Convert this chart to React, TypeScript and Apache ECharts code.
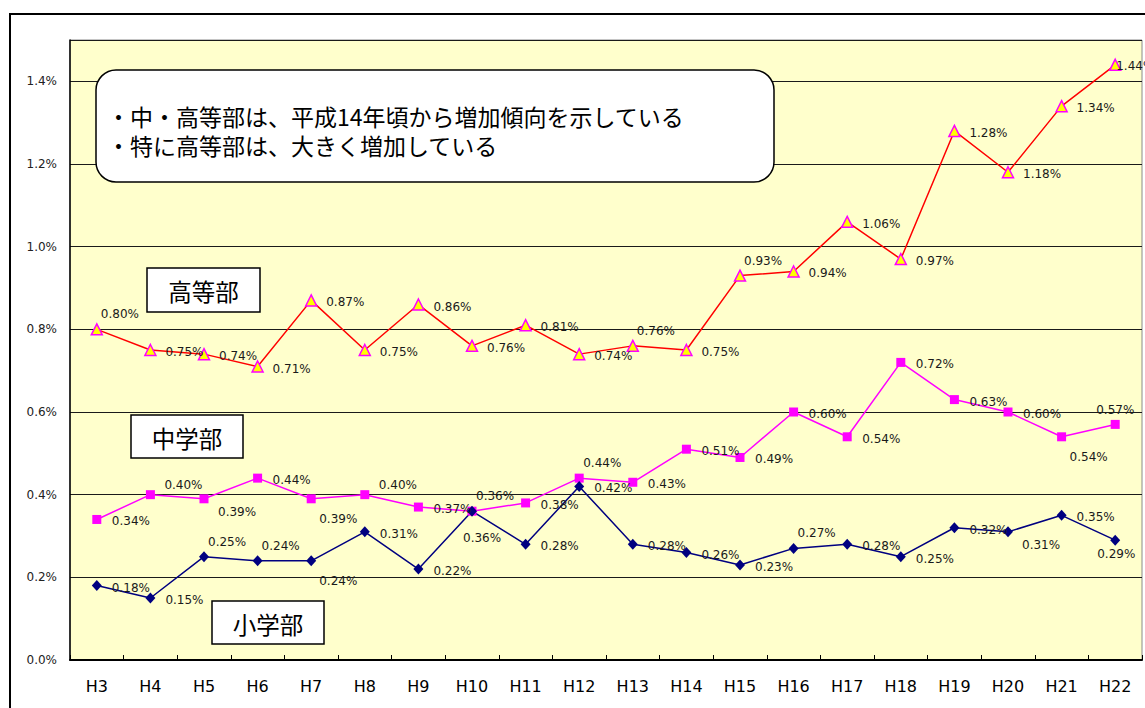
import React, { useEffect, useRef } from "react";
import * as echarts from "echarts";

const categories = ["H3", "H4", "H5", "H6", "H7", "H8", "H9", "H10", "H11", "H12", "H13", "H14", "H15", "H16", "H17", "H18", "H19", "H20", "H21", "H22"];
const koutoubu = [0.80, 0.75, 0.74, 0.71, 0.87, 0.75, 0.86, 0.76, 0.81, 0.74, 0.76, 0.75, 0.93, 0.94, 1.06, 0.97, 1.28, 1.18, 1.34, 1.44];
const chugakubu = [0.34, 0.40, 0.39, 0.44, 0.39, 0.40, 0.37, 0.36, 0.38, 0.44, 0.43, 0.51, 0.49, 0.60, 0.54, 0.72, 0.63, 0.60, 0.54, 0.57];
const shougakubu = [0.18, 0.15, 0.25, 0.24, 0.24, 0.31, 0.22, 0.36, 0.28, 0.42, 0.28, 0.26, 0.23, 0.27, 0.28, 0.25, 0.32, 0.31, 0.35, 0.29];
const yTicks = [0, 0.2, 0.4, 0.6, 0.8, 1.0, 1.2, 1.4];

// label placement codes (style only)
const koutouPlace = ["U", "R", "R", "R", "R", "R", "R", "R", "R", "R", "U", "R", "U", "R", "R", "R", "R", "R", "R", "C"];
const chuPlace = ["R", "UR", "DR", "R", "D", "UR", "R", "U", "R", "U", "R", "R", "R", "R", "R", "R", "R", "R", "D", "UL"];
const shouPlace = ["R", "R", "U", "U", "D", "R", "R", "DD", "R", "R", "R", "R", "R", "U", "R", "R", "R", "DR", "R", "DL"];

const offsets: Record<string, number[]> = {
  R: [15, 2],
  U: [4, -15],
  D: [8, 20],
  UR: [14, -10],
  DR: [14, 13],
  UL: [-19, -14],
  DL: [-18, 14],
  DD: [-9, 27],
  C: [1, 1],
};

const noteLines = ["・中・高等部は、平成14年頃から増加傾向を示している", "・特に高等部は、大きく増加している"];

const smallFont = "'DejaVu Sans', sans-serif";
const cjkFont = "'Noto Sans CJK JP', sans-serif";

function buildData(values: number[], places: string[]) {
  return values.map((v, i) => ({
    value: v,
    label: { offset: offsets[places[i]] || offsets.R },
  }));
}

const labelBase = {
  show: true,
  position: "inside",
  align: "left",
  verticalAlign: "middle",
  fontSize: 12,
  fontFamily: smallFont,
  color: "#1a1a1a",
  formatter: (p: any) => Number(p.value).toFixed(2) + "%",
};

function boxLabel(text: string, x: number, y: number, w: number, h: number) {
  return {
    type: "group",
    z: 10,
    children: [
      {
        type: "rect",
        shape: { x, y, width: w, height: h },
        style: { fill: "#ffffff", stroke: "#000000", lineWidth: 1.5 },
        z: 10,
      },
      {
        type: "text",
        x: x + w / 2,
        y: y + h / 2 + 1,
        style: {
          text,
          fontSize: 23.5,
          fontFamily: cjkFont,
          fill: "#000000",
          align: "center",
          verticalAlign: "middle",
        },
        z: 11,
      },
    ],
  };
}

export default function App() {
  const ref = useRef<HTMLDivElement>(null);
  useEffect(() => {
    if (!ref.current) return;
    const chart = echarts.init(ref.current, undefined, { renderer: "svg" });
    chart.setOption({
      animation: false,
      backgroundColor: "#ffffff",
      grid: {
        left: 70,
        right: 3,
        top: 40,
        bottom: 48,
        show: true,
        backgroundColor: "#FFFFCC",
        borderColor: "#8a8a8a",
        borderWidth: 1,
      },
      xAxis: {
        type: "category",
        data: categories,
        boundaryGap: true,
        axisLine: { show: true, lineStyle: { color: "#000000", width: 2 } },
        axisTick: { show: true, inside: true, length: 5, lineStyle: { color: "#000000", width: 1 } },
        axisLabel: { fontSize: 16, fontFamily: smallFont, color: "#000000", margin: 18 },
        splitLine: { show: false },
      },
      yAxis: {
        type: "value",
        min: 0,
        max: 1.5,
        interval: 0.2,
        axisLine: { show: true, lineStyle: { color: "#000000", width: 1.5 } },
        axisTick: { show: false },
        axisLabel: {
          fontSize: 12,
          fontFamily: smallFont,
          color: "#222222",
          margin: 13,
          showMaxLabel: false,
          formatter: (v: number) => {
            const t = yTicks.find((k) => Math.abs(k - v) < 1e-6);
            return t === undefined ? "" : t.toFixed(1) + "%";
          },
        },
        splitLine: { show: true, lineStyle: { color: "#1a1a1a", width: 1 } },
      },
      series: [
        {
          name: "高等部",
          type: "line",
          data: buildData(koutoubu, koutouPlace),
          symbol: "triangle",
          symbolSize: 11,
          lineStyle: { color: "#FF0000", width: 1.5 },
          itemStyle: { color: "#FFFF00", borderColor: "#FF00FF", borderWidth: 1.5 },
          label: labelBase,
          z: 3,
        },
        {
          name: "中学部",
          type: "line",
          data: buildData(chugakubu, chuPlace),
          symbol: "rect",
          symbolSize: 9,
          lineStyle: { color: "#FF00FF", width: 1.5 },
          itemStyle: { color: "#FF00FF", borderColor: "#FF00FF", borderWidth: 0 },
          label: labelBase,
          z: 3,
        },
        {
          name: "小学部",
          type: "line",
          data: buildData(shougakubu, shouPlace),
          symbol: "diamond",
          symbolSize: [10, 11],
          lineStyle: { color: "#000080", width: 1.5 },
          itemStyle: { color: "#000080", borderColor: "#000080", borderWidth: 0 },
          label: labelBase,
          z: 3,
        },
      ],
      graphic: [
        {
          type: "rect",
          shape: { x: 10, y: 14, width: 1300, height: 900 },
          style: { fill: "none", stroke: "#000000", lineWidth: 2 },
          z: 20,
          silent: true,
        },
        {
          type: "group",
          z: 10,
          children: [
            {
              type: "rect",
              shape: { x: 96, y: 70, width: 678, height: 112, r: 20 },
              style: { fill: "#ffffff", stroke: "#000000", lineWidth: 1.5 },
              z: 10,
            },
            {
              type: "text",
              x: 107,
              y: 116,
              style: { text: noteLines[0], fontSize: 23, fontFamily: cjkFont, fill: "#000000", align: "left", verticalAlign: "middle" },
              z: 11,
            },
            {
              type: "text",
              x: 107,
              y: 144.5,
              style: { text: noteLines[1], fontSize: 23, fontFamily: cjkFont, fill: "#000000", align: "left", verticalAlign: "middle" },
              z: 11,
            },
          ],
        },
        boxLabel("高等部", 147, 268, 113, 44),
        boxLabel("中学部", 131, 415, 112, 43),
        boxLabel("小学部", 212, 601, 112, 43),
      ],
    });
    return () => chart.dispose();
  }, []);
  return (
    <div
      ref={ref}
      style={{ position: "fixed", left: 0, top: 0, width: 1145, height: 708 }}
    />
  );
}
